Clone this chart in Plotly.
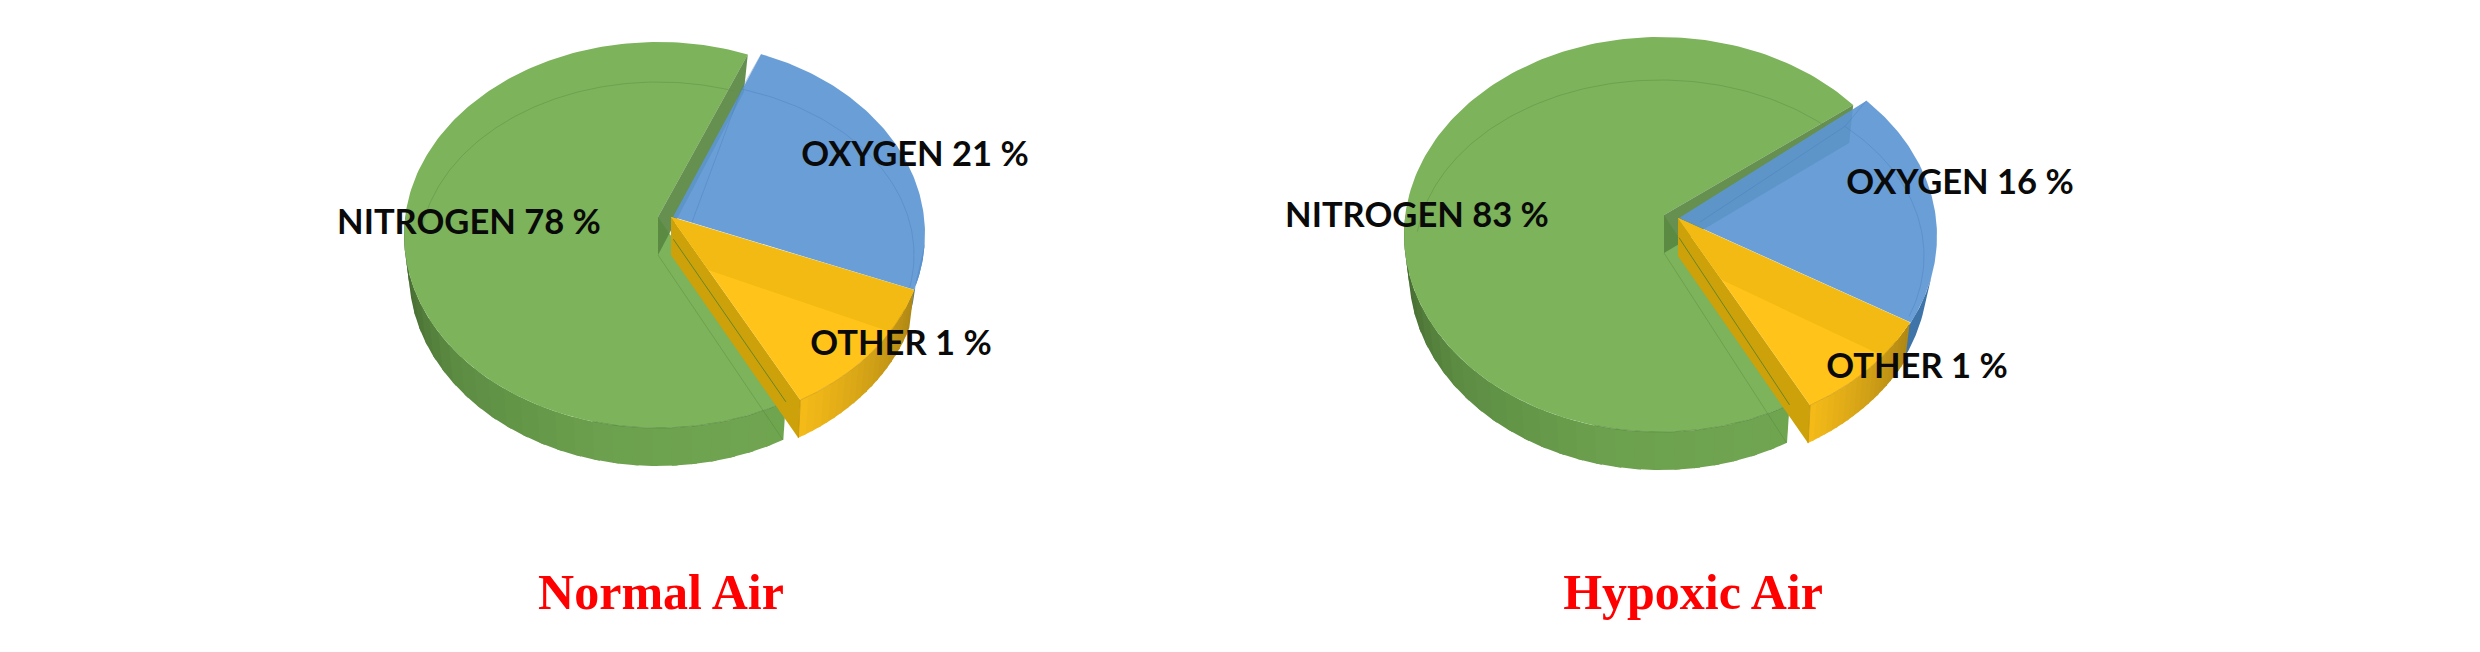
import math
import plotly.graph_objects as go

# ---- data ----
CATEGORIES = ["NITROGEN", "OXYGEN", "OTHER"]
NORMAL_VALUES = [78, 21, 1]
HYPOXIC_VALUES = [83, 16, 1]
# share of the round each slice really occupies in the drawing (%)
NORMAL_DRAWN = [64.2, 24.0, 11.8]
HYPOXIC_DRAWN = [71.5, 19.3, 9.2]
TITLES = ["Normal Air", "Hypoxic Air"]

# ---- layout / geometry ----
W, H = 2480, 652
PAGE_MARGIN = 8  # the page body keeps its default margin
DEPTH = 38
GEOM = [
    dict(start=20.5, gap=0.2,
         green=dict(cx=658, cy=235, rx=254, ry=193, ax=658, ay=217),
         blue=dict(cx=673, cy=234, rx=252, ry=192, ax=673, ay=217),
         gold=dict(cx=671, cy=234, rx=254, ry=193, ax=671, ay=217),
         inner=dict(cx=658, cy=255, rx=239, ry=173), band=13.5, band_f=0.29,
         inner_blue=dict(cx=673, cy=255, rx=241, ry=173, ax=692, ay=222),
         labels=dict(x=[469, 915, 901], y=[225, 157, 346]),
         title=(661, 596)),
    dict(start=46.6, gap=2.4,
         green=dict(cx=1660, cy=234.5, rx=256, ry=197.5, ax=1664, ay=215),
         blue=dict(cx=1679, cy=236, rx=258, ry=197, ax=1679, ay=218),
         gold=dict(cx=1678, cy=236, rx=258, ry=197, ax=1678, ay=218),
         inner=dict(cx=1660, cy=256, rx=245, ry=176), band=11.4, band_f=0.33,
         inner_blue=dict(cx=1679, cy=256, rx=245, ry=176, ax=1700, ay=222),
         labels=dict(x=[1417, 1960, 1917], y=[218, 185, 369]),
         title=(1693, 596)),
]
GREEN, BLUE, GOLD = "#7CB35B", "rgba(92,150,212,0.92)", "#FFC319"
LABEL_FONT = dict(family="Lato", size=34.5, color="#0a0a0a")
TITLE_FONT = dict(family="Liberation Serif", size=50, color="#ff0000")


def pt(g, t, dy=0, inset=0):
    r = math.radians(t)
    return g["cx"] + (g["rx"] - inset) * math.sin(r), g["cy"] + dy - g["ry"] * math.cos(r)


def arc(g, t0, t1, dy=0, n=80, inset=0):
    pts = [pt(g, t0 + (t1 - t0) * i / n, dy, inset) for i in range(n + 1)]
    return [p[0] for p in pts], [p[1] for p in pts]


fig = go.Figure()


def poly(xs, ys, color):
    fig.add_trace(go.Scatter(x=xs, y=ys, mode="lines", fill="toself", fillcolor=color,
                             line=dict(width=0), hoverinfo="skip", showlegend=False))


def stroke(xs, ys, color, width=1):
    fig.add_trace(go.Scatter(x=xs, y=ys, mode="lines", line=dict(color=color, width=width),
                             hoverinfo="skip", showlegend=False))


def mix(c0, c1, f):
    return "rgb(%d,%d,%d)" % tuple(round(a + (b - a) * f) for a, b in zip(c0, c1))


def wall(g, t0, t1, stops, steps=28, inset=0):
    for i in range(steps):
        a = t0 + (t1 - t0) * i / steps
        b = t0 + (t1 - t0) * min(i + 1.3, steps) / steps
        xa, ya = arc(g, a, b, 0, 4)
        xb, yb = arc(g, b, a, DEPTH, 4, inset)
        f = i / (steps - 1) * (len(stops) - 1)
        k = min(int(f), len(stops) - 2)
        poly(xa + xb, ya + yb, mix(stops[k], stops[k + 1], f - k))


def draw(geom, drawn):
    nit, oxy, oth = [d * 3.6 for d in drawn]
    ox0 = geom["start"]
    ox1 = ox0 + oxy
    ot1 = ox1 + oth
    gr0 = ot1 + 0.4
    gr1 = ox0 + 360 + geom["gap"]
    g, b, y = geom["green"], geom["blue"], geom["gold"]

    # blue sliver of outer wall
    xa, ya = arc(b, ox1 - 14, ox1 + 6)
    xb, yb = arc(b, ox1 + 6, ox1 - 14, DEPTH, 80, 9)
    poly(xa + xb, ya + yb, "#3F74A8")

    # green outer wall, dark at the left, lighter toward the front
    wall(g, 276, gr0, [(62, 95, 44), (92, 140, 66), (108, 160, 78), (112, 165, 80)], inset=5)
    # green top face
    xs, ys = arc(g, gr0, gr1, 0, 200)
    poly([g["ax"]] + xs + [g["ax"]], [g["ay"]] + ys + [g["ay"]], GREEN)
    # faint underside outline seen through the glass
    stroke(*arc(geom["inner"], 278, gr1 - 2, 0, 120), "rgba(70,120,50,0.28)")
    ex, ey = pt(g, gr0)
    stroke([g["ax"], ex - 3], [g["ay"] + DEPTH, ey + DEPTH], "rgba(70,120,50,0.28)")
    # front rim line
    stroke(*arc(g, 195, gr0, 0, 60), "rgba(70,115,50,0.45)")
    # green radial wall at the back
    tx, ty = pt(g, gr1)
    ix, iy = tx - 4, ty + DEPTH
    poly([g["ax"], tx, ix, g["ax"]], [g["ay"], ty, iy, g["ay"] + DEPTH], "rgba(88,135,65,0.92)")

    # blue top face
    xs, ys = arc(b, ox0, ox1, 0, 100)
    poly([b["ax"]] + xs + [b["ax"]], [b["ay"]] + ys + [b["ay"]], BLUE)
    ib = geom["inner_blue"]
    ixs, iys = arc(ib, ox0 - 4, ox1 - 6, 0, 60)
    stroke([ib["ax"]] + ixs, [ib["ay"]] + iys, "rgba(70,120,180,0.35)")
    sx, sy = pt(b, ox0)
    stroke([sx, ixs[0]], [sy, iys[0]], "rgba(70,120,180,0.35)")

    # gold outer wall and left wall
    wall(y, ox1, ot1, [(176, 136, 20), (244, 186, 24)], 20, inset=5)
    ex, ey = pt(y, ot1)
    poly([y["ax"], ex, ex - 2, y["ax"]], [y["ay"], ey, ey + DEPTH, y["ay"] + DEPTH], "#CDA109")
    # gold top face
    xs, ys = arc(y, ox1, ot1, 0, 60)
    poly([y["ax"]] + xs + [y["ax"]], [y["ay"]] + ys + [y["ay"]], GOLD)
    # darker band along the oxygen edge
    f = geom["band_f"]
    bx, by = arc(y, ox1, ox1 + geom["band"], 0, 20)
    poly([y["ax"]] + bx + [y["ax"] + (ex - y["ax"]) * f, y["ax"]],
         [y["ay"]] + by + [y["ay"] + (ey - y["ay"]) * f, y["ay"]], "#F2BA12")
    # green edge line along the gold wall and front corner line of the gold slice
    gx, gy = pt(g, gr0)
    stroke([g["ax"] + (gx - g["ax"]) * 0.12, gx], [g["ay"] + (gy - g["ay"]) * 0.12, gy],
           "rgba(70,125,50,0.75)")
    stroke([ex, ex - 2], [ey, ey + DEPTH], "rgba(190,140,10,0.6)")
    stroke(*arc(y, ox1 + 6, ot1, 0, 40), "rgba(190,140,10,0.5)")


draw(GEOM[0], NORMAL_DRAWN)
draw(GEOM[1], HYPOXIC_DRAWN)

for geom, vals, title in zip(GEOM, [NORMAL_VALUES, HYPOXIC_VALUES], TITLES):
    fig.add_trace(go.Scatter(
        x=geom["labels"]["x"], y=geom["labels"]["y"], mode="text",
        text=[f"<b>{c} {v} %</b>" for c, v in zip(CATEGORIES, vals)],
        textposition="middle center", textfont=LABEL_FONT,
        hoverinfo="skip", showlegend=False))
    fig.add_trace(go.Scatter(
        x=[geom["title"][0]], y=[geom["title"][1]], mode="text", text=[f"<b>{title}</b>"],
        textposition="middle center", textfont=TITLE_FONT,
        hoverinfo="skip", showlegend=False))

m = PAGE_MARGIN
fig.update_layout(
    width=W - 2 * m, height=H - 2 * m, margin=dict(l=0, r=0, t=0, b=0),
    paper_bgcolor="white", plot_bgcolor="white", showlegend=False,
    xaxis=dict(range=[m, W - m], visible=False, fixedrange=True),
    yaxis=dict(range=[H - m, m], visible=False, fixedrange=True),
)
fig.write_html("out.html", config=dict(displayModeBar=False))
